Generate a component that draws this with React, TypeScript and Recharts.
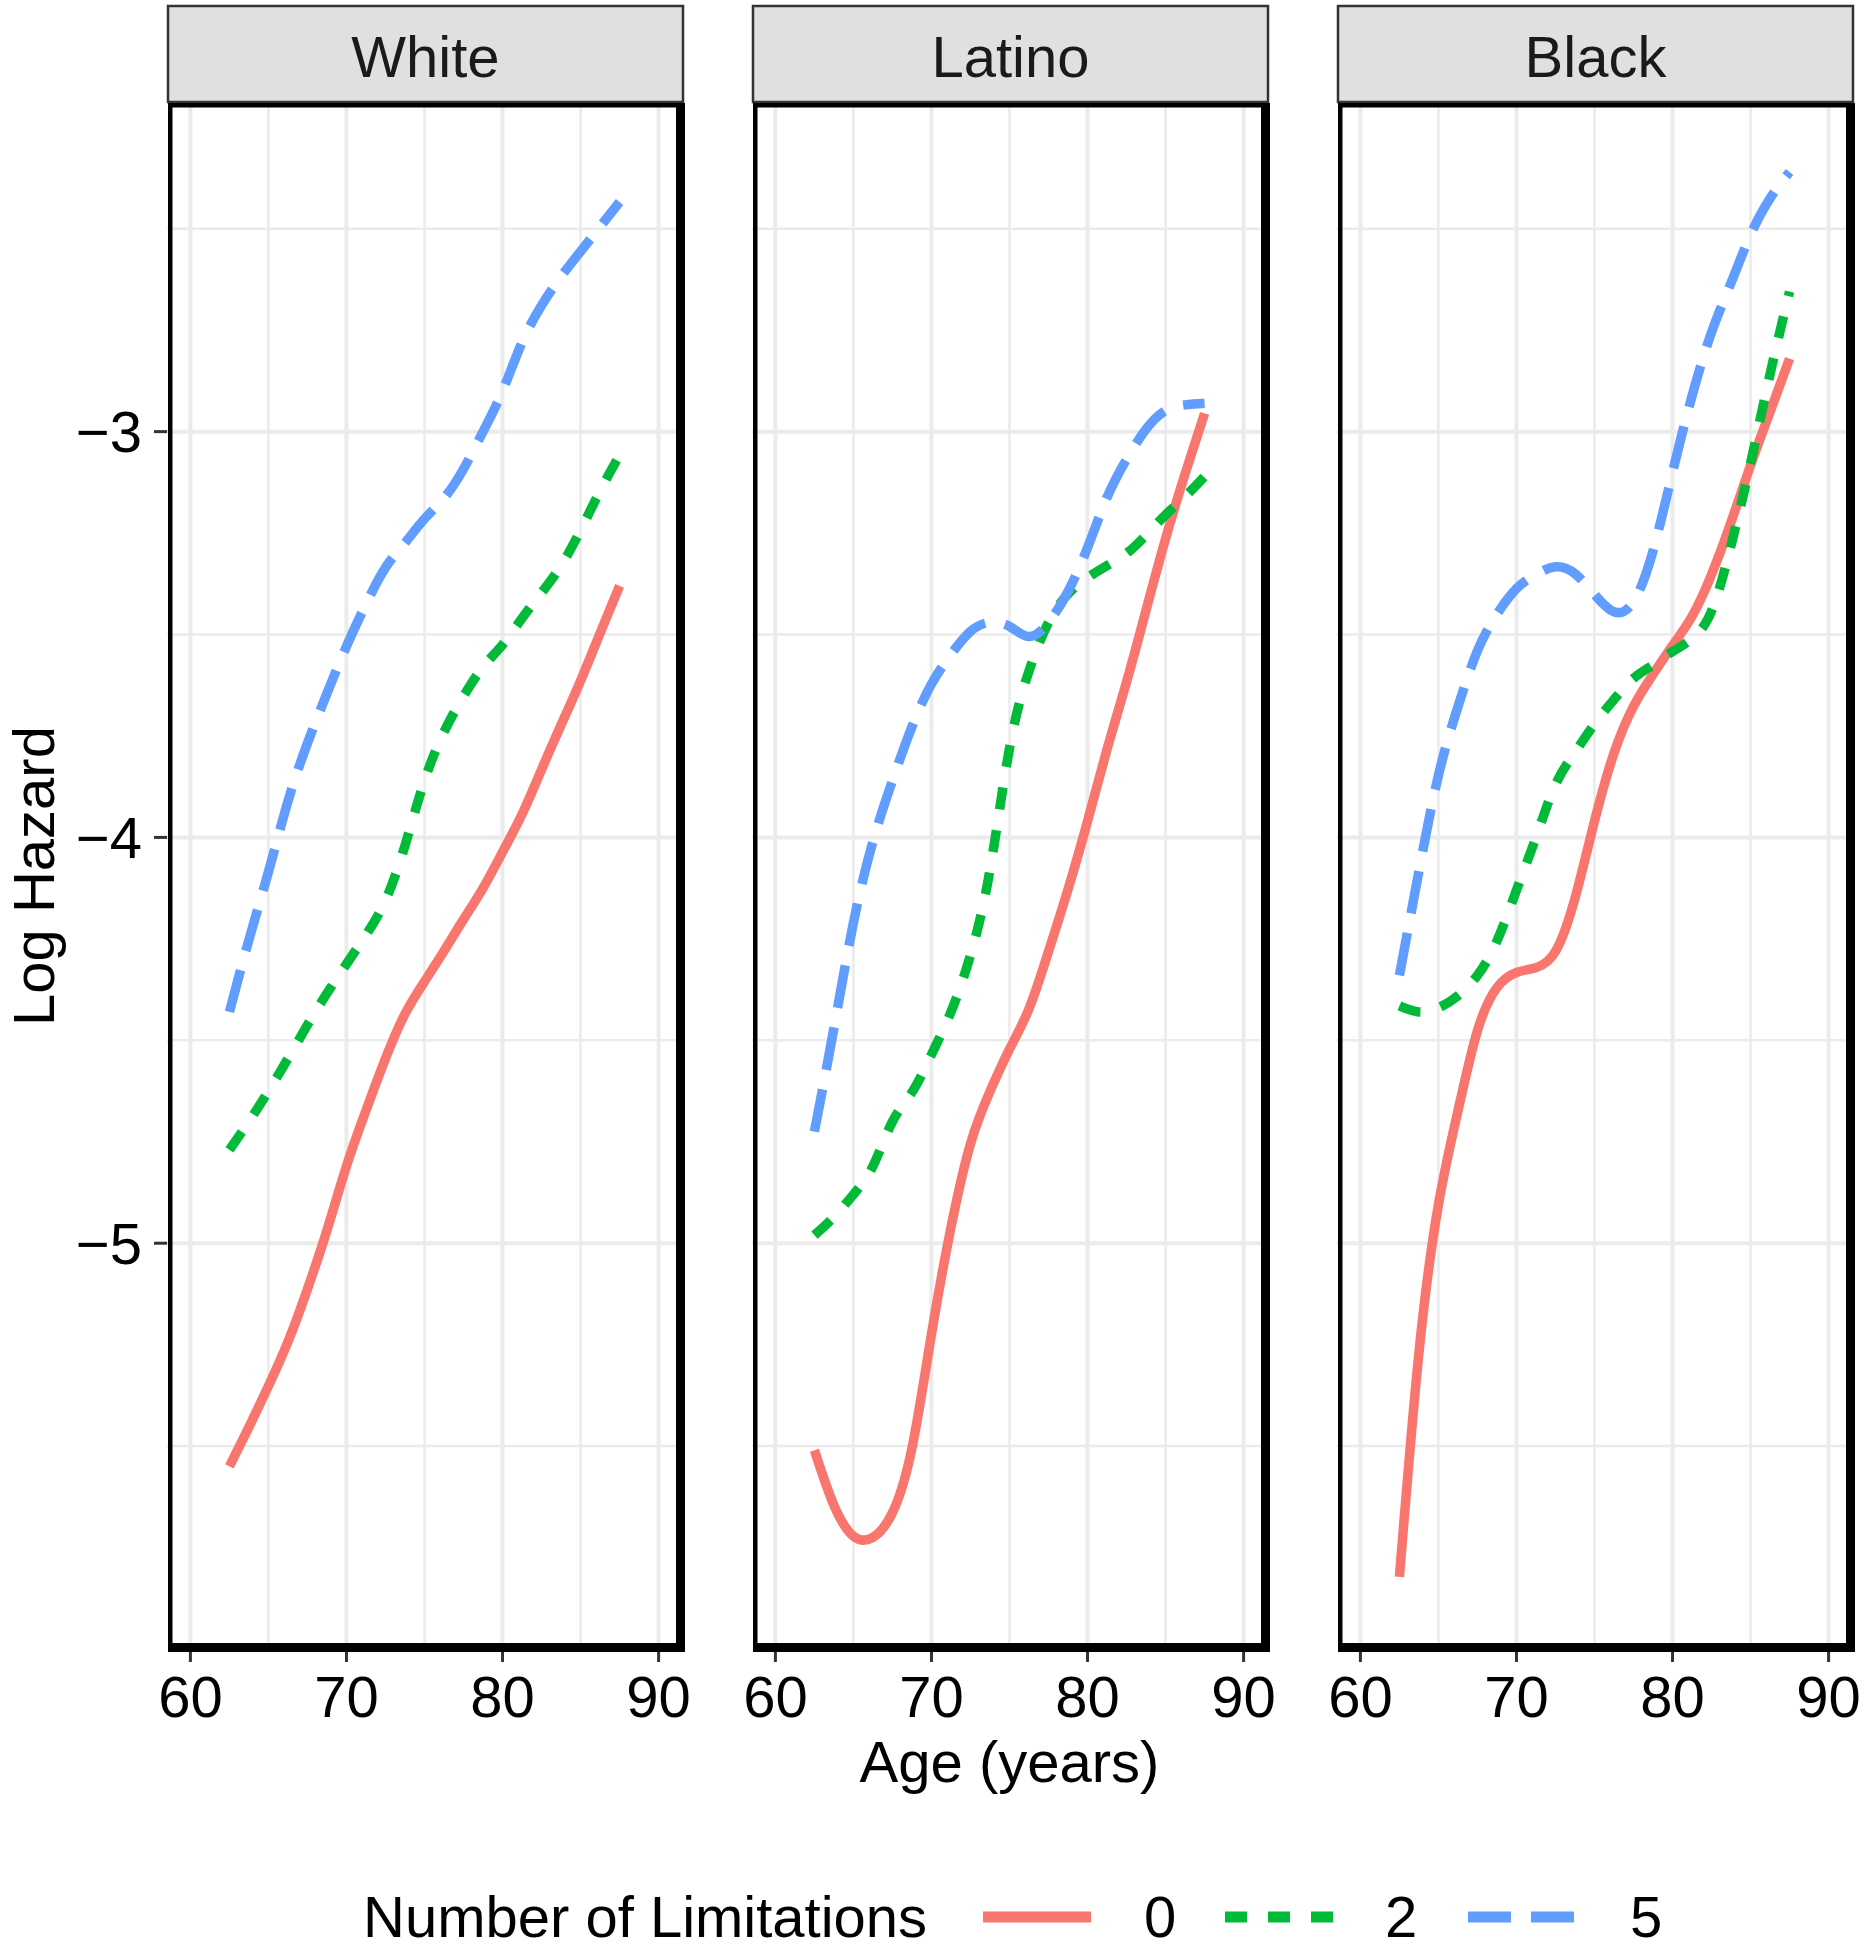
import React from "react";
import { LineChart, Line, XAxis, YAxis, CartesianGrid } from "recharts";

// ages where the smoothed hazard curves are read
const AGES = [
  62.5, 63.75, 65, 66.25, 67.5, 68.75, 70, 71.25, 72.5, 73.75, 75, 76.25, 77.5,
  78.75, 80, 81.25, 82.5, 83.75, 85, 86.25, 87.5,
];

const WHITE_0 = [
  -5.55, -5.453, -5.352, -5.243, -5.113, -4.968, -4.81, -4.673, -4.545, -4.435,
  -4.355, -4.28, -4.202, -4.125, -4.036, -3.943, -3.833, -3.723, -3.614, -3.497,
  -3.38,
];
const WHITE_2 = [
  -4.77, -4.7, -4.625, -4.545, -4.462, -4.384, -4.312, -4.24, -4.155, -4.02,
  -3.86, -3.74, -3.652, -3.58, -3.525, -3.46, -3.397, -3.33, -3.243, -3.146,
  -3.058,
];
const WHITE_5 = [
  -4.43, -4.252, -4.085, -3.911, -3.768, -3.645, -3.529, -3.425, -3.335, -3.274,
  -3.215, -3.164, -3.092, -3.0, -2.9, -2.78, -2.689, -2.618, -2.556, -2.495,
  -2.434,
];

const LATINO_0 = [
  -5.51, -5.646, -5.722, -5.725, -5.664, -5.505, -5.224, -4.961, -4.755, -4.626,
  -4.522, -4.422, -4.281, -4.128, -3.96, -3.783, -3.617, -3.44, -3.264, -3.104,
  -2.955,
];
const LATINO_2 = [
  -4.98, -4.935, -4.88, -4.81, -4.7, -4.628, -4.535, -4.43, -4.29, -4.08, -3.78,
  -3.59, -3.47, -3.4, -3.36, -3.33, -3.3, -3.255, -3.205, -3.16, -3.11,
];
const LATINO_5 = [
  -4.725, -4.47, -4.21, -4.01, -3.86, -3.727, -3.622, -3.549, -3.492, -3.47,
  -3.48, -3.505, -3.47, -3.394, -3.286, -3.162, -3.068, -2.994, -2.948, -2.934,
  -2.93,
];

const BLACK_0 = [
  -5.822, -5.27, -4.905, -4.674, -4.476, -4.37, -4.333, -4.321, -4.281, -4.15,
  -3.96, -3.792, -3.677, -3.598, -3.527, -3.455, -3.352, -3.223, -3.083, -2.951,
  -2.82,
];
const BLACK_2 = [
  -4.415, -4.43, -4.42, -4.39, -4.34, -4.255, -4.13, -4.0, -3.87, -3.79, -3.72,
  -3.66, -3.608, -3.575, -3.542, -3.51, -3.442, -3.28, -3.078, -2.858, -2.655,
];
const BLACK_5 = [
  -4.34, -4.083, -3.847, -3.678, -3.54, -3.45, -3.387, -3.352, -3.333, -3.35,
  -3.401, -3.444, -3.419, -3.294, -3.1, -2.912, -2.755, -2.633, -2.515, -2.425,
  -2.36,
];

const PANEL_NAMES = ["White", "Latino", "Black"];
const PANEL_SERIES = [
  [WHITE_0, WHITE_2, WHITE_5],
  [LATINO_0, LATINO_2, LATINO_5],
  [BLACK_0, BLACK_2, BLACK_5],
];
const LIMIT_LEVELS = ["0", "2", "5"];
const LEGEND_TITLE = "Number of Limitations";

const X_TICKS = [60, 70, 80, 90];
const X_MINOR = [65, 75, 85];
const Y_TICKS = [-5, -4, -3];
const Y_MINOR = [-5.5, -4.5, -3.5, -2.5];
const X_DOMAIN = [58.5, 91.5];
const Y_DOMAIN = [-6.0, -2.2];

const LINE_STYLES = [
  { color: "#F8766D", dash: undefined as string | undefined },
  { color: "#00BA38", dash: "22 21" },
  { color: "#619CFF", dash: "43 20" },
];

const FONT = "'Liberation Sans', Arial, Helvetica, sans-serif";
const FS = 58;
const PLOT_LEFT = [167, 752, 1337];
const PLOT_W = 515;
const PLOT_TOP = 107;
const PLOT_BOTTOM = 1649;
const CHART_H = 1760;
const X_AXIS_H = 60;
const Y_AXIS_W = 167;
const SIDE = 40;

const fmtY = (v: number) => (v < 0 ? "\u2212" + Math.abs(v) : String(v));

function Panel({ index }: { index: number }) {
  const series = PANEL_SERIES[index];
  const data = AGES.map((age, i) => ({
    age,
    l0: series[0][i],
    l2: series[1][i],
    l5: series[2][i],
  }));
  const first = index === 0;
  const left = first ? 0 : PLOT_LEFT[index] - SIDE;
  const width = (first ? Y_AXIS_W : SIDE) + PLOT_W + SIDE;

  return (
    <div style={{ position: "absolute", left, top: 0 }}>
      <LineChart
        width={width}
        height={CHART_H}
        data={data}
        margin={{
          top: PLOT_TOP,
          right: SIDE,
          bottom: CHART_H - PLOT_BOTTOM - X_AXIS_H,
          left: first ? 0 : SIDE,
        }}
      >
        <CartesianGrid
          stroke="#EBEBEB"
          strokeWidth={2.5}
          horizontalValues={Y_MINOR}
          verticalValues={X_MINOR}
        />
        <CartesianGrid
          stroke="#EBEBEB"
          strokeWidth={4}
          horizontalValues={Y_TICKS}
          verticalValues={X_TICKS}
        />
        <XAxis
          dataKey="age"
          type="number"
          domain={X_DOMAIN}
          allowDataOverflow
          ticks={X_TICKS}
          interval={0}
          axisLine={false}
          tickSize={13}
          tickMargin={14}
          tickLine={{ stroke: "#333333", strokeWidth: 3 }}
          tick={{ fontSize: FS, fill: "#000000" }}
          height={X_AXIS_H}
        />
        <YAxis
          type="number"
          domain={Y_DOMAIN}
          allowDataOverflow
          ticks={Y_TICKS}
          interval={0}
          hide={!first}
          width={Y_AXIS_W}
          axisLine={false}
          tickSize={13}
          tickMargin={12}
          tickLine={{ stroke: "#333333", strokeWidth: 3 }}
          tick={{ fontSize: FS, fill: "#000000" }}
          tickFormatter={fmtY}
        />
        {["l0", "l2", "l5"].map((key, k) => (
          <Line
            key={key}
            dataKey={key}
            type="natural"
            stroke={LINE_STYLES[k].color}
            strokeWidth={9.5}
            strokeDasharray={LINE_STYLES[k].dash}
            dot={false}
            activeDot={false}
            isAnimationActive={false}
          />
        ))}
      </LineChart>
    </div>
  );
}

export default function App() {
  const legendKeys = [983, 1225, 1468];
  const legendLabels = [1144, 1385, 1630];

  return (
    <div
      style={{
        position: "absolute",
        left: 0,
        top: 0,
        width: 1867,
        height: 1950,
        background: "#ffffff",
        fontFamily: FONT,
        overflow: "hidden",
      }}
    >
      {PANEL_NAMES.map((_, i) => (
        <Panel key={i} index={i} />
      ))}
      <svg
        width={1867}
        height={1950}
        style={{ position: "absolute", left: 0, top: 0, pointerEvents: "none" }}
        fontFamily={FONT}
      >
        {PANEL_NAMES.map((name, i) => {
          const x0 = PLOT_LEFT[i] + 1;
          return (
            <g key={name}>
              <rect x={x0} y={6} width={PLOT_W} height={96} fill="#E0E0E0" stroke="#333333" strokeWidth={2.5} />
              <text x={x0 + PLOT_W / 2} y={77} textAnchor="middle" fontSize={FS} fill="#1A1A1A">
                {name}
              </text>
              {/* panel frame: thin left/top, heavier right/bottom like the source */}
              <rect x={x0} y={103} width={4.5} height={1549} fill="#000" />
              <rect x={x0} y={103} width={517} height={4.5} fill="#000" />
              <rect x={x0 + 508} y={103} width={9} height={1549} fill="#000" />
              <rect x={x0} y={1643} width={517} height={9} fill="#000" />
            </g>
          );
        })}
        <text transform="translate(54 876) rotate(-90)" textAnchor="middle" fontSize={FS} fill="#000">
          Log Hazard
        </text>
        <text x={PLOT_LEFT[1] + PLOT_W / 2} y={1782} textAnchor="middle" fontSize={FS} fill="#000">
          Age (years)
        </text>
        <text x={363} y={1937} fontSize={FS} fill="#000">
          {LEGEND_TITLE}
        </text>
        {LIMIT_LEVELS.map((lvl, k) => (
          <g key={lvl}>
            <line
              x1={legendKeys[k]}
              x2={legendKeys[k] + 108}
              y1={1917}
              y2={1917}
              stroke={LINE_STYLES[k].color}
              strokeWidth={11}
              strokeDasharray={LINE_STYLES[k].dash}
            />
            <text x={legendLabels[k]} y={1937} fontSize={FS} fill="#000">
              {lvl}
            </text>
          </g>
        ))}
      </svg>
    </div>
  );
}
